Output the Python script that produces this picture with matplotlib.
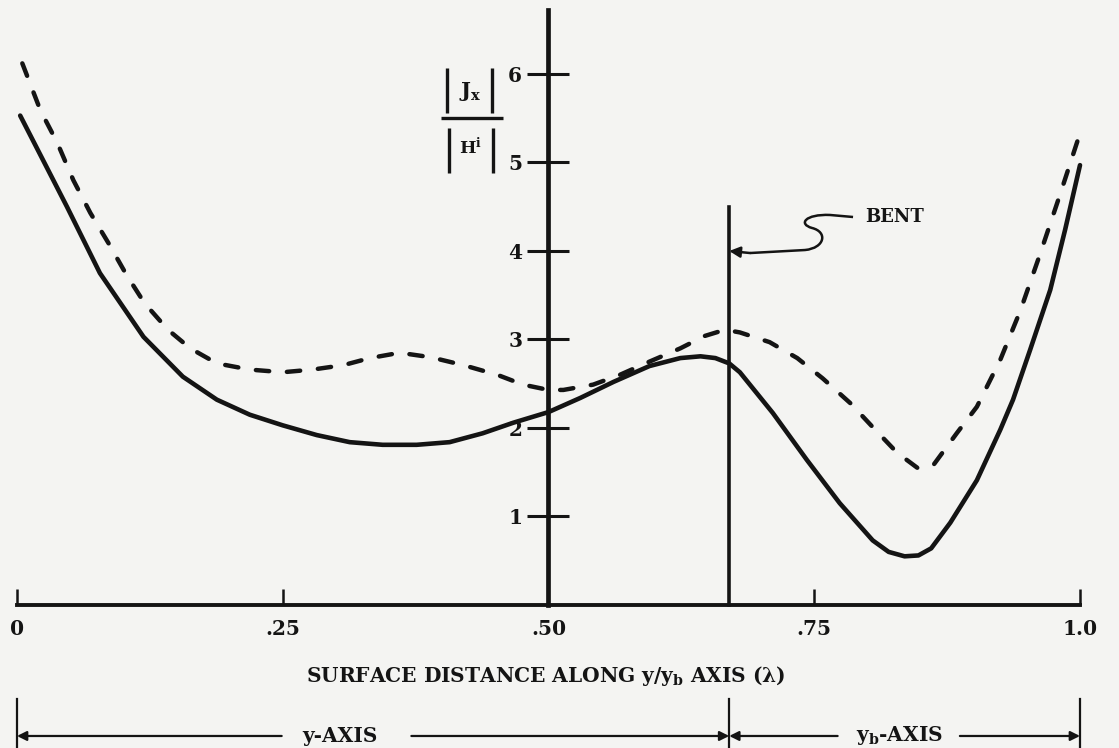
import matplotlib
matplotlib.use("Agg")
import matplotlib.pyplot as plt
from matplotlib.path import Path
from matplotlib.patches import PathPatch

plt.rcParams['font.family'] = ['DejaVu Serif']
plt.rcParams['font.weight'] = 'bold'
plt.rcParams['mathtext.fontset'] = 'dejavuserif'
plt.rcParams['mathtext.default'] = 'regular'

# Surface distance along the y/y_b axis (lambda) and normalized current |Jx|/|H^i|
lam_solid = [0.003, 0.047, 0.078, 0.119, 0.156, 0.188, 0.219, 0.250, 0.282,
             0.313, 0.344, 0.376, 0.407, 0.438, 0.467, 0.500, 0.530, 0.561,
             0.595, 0.624, 0.643, 0.657, 0.670, 0.680, 0.711, 0.743, 0.774,
             0.805, 0.820, 0.835, 0.848, 0.860, 0.878, 0.903, 0.925, 0.937,
             0.953, 0.972, 0.986, 1.000]
j_solid = [5.53, 4.50, 3.75, 3.03, 2.58, 2.32, 2.15, 2.03, 1.92,
           1.84, 1.81, 1.81, 1.84, 1.94, 2.06, 2.18, 2.34, 2.52,
           2.70, 2.79, 2.81, 2.79, 2.73, 2.63, 2.17, 1.64, 1.15,
           0.73, 0.60, 0.55, 0.56, 0.64, 0.93, 1.41, 1.98, 2.32,
           2.88, 3.56, 4.24, 4.97]

lam_dashed = [0.005, 0.022, 0.038, 0.053, 0.069, 0.086, 0.103, 0.120, 0.142,
              0.163, 0.188, 0.219, 0.250, 0.278, 0.307, 0.332, 0.360, 0.389,
              0.420, 0.452, 0.476, 0.500, 0.514, 0.542, 0.567, 0.595, 0.624,
              0.647, 0.666, 0.680, 0.708, 0.734, 0.758, 0.784, 0.805, 0.828,
              0.847, 0.862, 0.884, 0.903, 0.925, 0.944, 0.962, 0.981, 1.000]
j_dashed = [6.12, 5.59, 5.22, 4.80, 4.43, 4.09, 3.73, 3.41, 3.11,
            2.90, 2.73, 2.66, 2.63, 2.66, 2.71, 2.79, 2.85, 2.80,
            2.71, 2.60, 2.49, 2.43, 2.43, 2.49, 2.60, 2.75, 2.90,
            3.04, 3.11, 3.08, 2.97, 2.79, 2.56, 2.28, 2.01, 1.72,
            1.55, 1.58, 1.94, 2.24, 2.77, 3.33, 3.95, 4.63, 5.33]

x_ticks = [0.0, 0.25, 0.50, 0.75, 1.0]
x_tick_labels = ['0', '.25', '.50', '.75', '1.0']
y_ticks = [1, 2, 3, 4, 5, 6]
y_tick_labels = ['1', '2', '3', '4', '5', '6']

bend_at = 0.67        # junction of the y-axis and y_b-axis segments
bend_top = 4.5
bent_arrow_y = 4.0
y_axis_top = 6.72

INK = '#141414'
PAPER = '#f4f4f2'

fig = plt.figure(figsize=(11.19, 7.48), dpi=100, facecolor=PAPER)
ax = fig.add_axes([0, 0, 1, 1], facecolor=PAPER)
ax.set_xlim(-0.01599, 1.03669)
ax.set_ylim(-1.6158, 6.836)

# curves
ax.plot(lam_solid, j_solid, color=INK, lw=3.3, solid_capstyle='round',
        solid_joinstyle='round')
ax.plot(lam_dashed, j_dashed, color=INK, lw=3.2, dashes=(3.0, 4.0),
        dash_capstyle='round', dash_joinstyle='round')

# axes: horizontal lambda axis at zero, vertical value axis at lambda = 0.5
for side in ('top', 'right'):
    ax.spines[side].set_visible(False)
ax.spines['bottom'].set_position(('data', 0))
ax.spines['bottom'].set_bounds(0, 1)
ax.spines['bottom'].set_linewidth(2.8)
ax.spines['bottom'].set_color(INK)
ax.spines['left'].set_position(('data', 0.5))
ax.spines['left'].set_bounds(0, y_axis_top)
ax.spines['left'].set_linewidth(3.4)
ax.spines['left'].set_color(INK)

ax.set_xticks(x_ticks)
ax.set_xticklabels(x_tick_labels)
ax.tick_params(axis='x', direction='in', length=11.5, width=1.8, pad=10,
               labelsize=14.5, colors=INK)
ax.set_yticks(y_ticks)
ax.set_yticklabels(y_tick_labels)
ax.tick_params(axis='y', direction='inout', length=30, width=2.2, pad=4,
               labelsize=14.5, colors=INK)

# bend marker
ax.plot([bend_at, bend_at], [0, bend_top], color=INK, lw=2.6)
ax.annotate('', xy=(bend_at, bent_arrow_y), xytext=(0.6896, 3.977),
            arrowprops=dict(arrowstyle='-|>', color=INK, lw=1.8,
                            mutation_scale=16, shrinkA=0, shrinkB=0))
squiggle = Path(
    [(0.6896, 3.977), (0.7413, 4.011),
     (0.7601, 4.034), (0.7629, 4.215), (0.7479, 4.260),
     (0.7347, 4.305), (0.7413, 4.418), (0.7648, 4.407),
     (0.7865, 4.384)],
    [Path.MOVETO, Path.LINETO,
     Path.CURVE4, Path.CURVE4, Path.CURVE4,
     Path.CURVE4, Path.CURVE4, Path.CURVE4,
     Path.LINETO])
ax.add_patch(PathPatch(squiggle, fill=False, edgecolor=INK, lw=1.8))
ax.text(0.7977, 4.384, 'BENT', fontsize=13, fontweight='bold', color=INK,
        ha='left', va='center')

# value label |Jx| / |H^i| built as a stacked fraction with tall bars
bar_kw = dict(color=INK, lw=2.4, solid_capstyle='butt')
ax.plot([0.4045, 0.4045], [5.56, 6.07], **bar_kw)
ax.plot([0.4469, 0.4469], [5.56, 6.07], **bar_kw)
ax.plot([0.3989, 0.4572], [5.503, 5.503], **bar_kw)
ax.plot([0.4064, 0.4064], [4.88, 5.39], **bar_kw)
ax.plot([0.4478, 0.4478], [4.88, 5.39], **bar_kw)
ax.text(0.4262, 5.80, r'J$_\mathbf{x}$', fontsize=15, color=INK,
        ha='center', va='center')
ax.text(0.4270, 5.17, r'H$^\mathbf{i}$', fontsize=12.5, color=INK,
        ha='center', va='center')

# lambda axis title
ax.text(0.497, -0.80, r'SURFACE DISTANCE ALONG y/y$_\mathbf{b}$ AXIS ($\mathbf{\lambda}$)',
        fontsize=14.5, color=INK, ha='center', va='center')

# dimension line for the two axis segments
dim_y = -1.48
for xb in (0.0, bend_at, 1.0):
    ax.plot([xb, xb], [-1.06, -1.60], color=INK, lw=1.6, clip_on=False)
arrow_kw = dict(arrowstyle='-|>', color=INK, lw=1.6, mutation_scale=14,
                shrinkA=0, shrinkB=0)
ax.annotate('', xy=(0.0, dim_y), xytext=(0.249, dim_y), arrowprops=arrow_kw)
ax.annotate('', xy=(bend_at, dim_y), xytext=(0.371, dim_y), arrowprops=arrow_kw)
ax.annotate('', xy=(bend_at, dim_y), xytext=(0.772, dim_y), arrowprops=arrow_kw)
ax.annotate('', xy=(1.0, dim_y), xytext=(0.887, dim_y), arrowprops=arrow_kw)
ax.text(0.304, dim_y, 'y-AXIS', fontsize=14.5, color=INK, ha='center', va='center')
ax.text(0.830, dim_y, r'y$_\mathbf{b}$-AXIS', fontsize=14.5, color=INK,
        ha='center', va='center')

fig.savefig('out.png', dpi=100, facecolor=PAPER)
